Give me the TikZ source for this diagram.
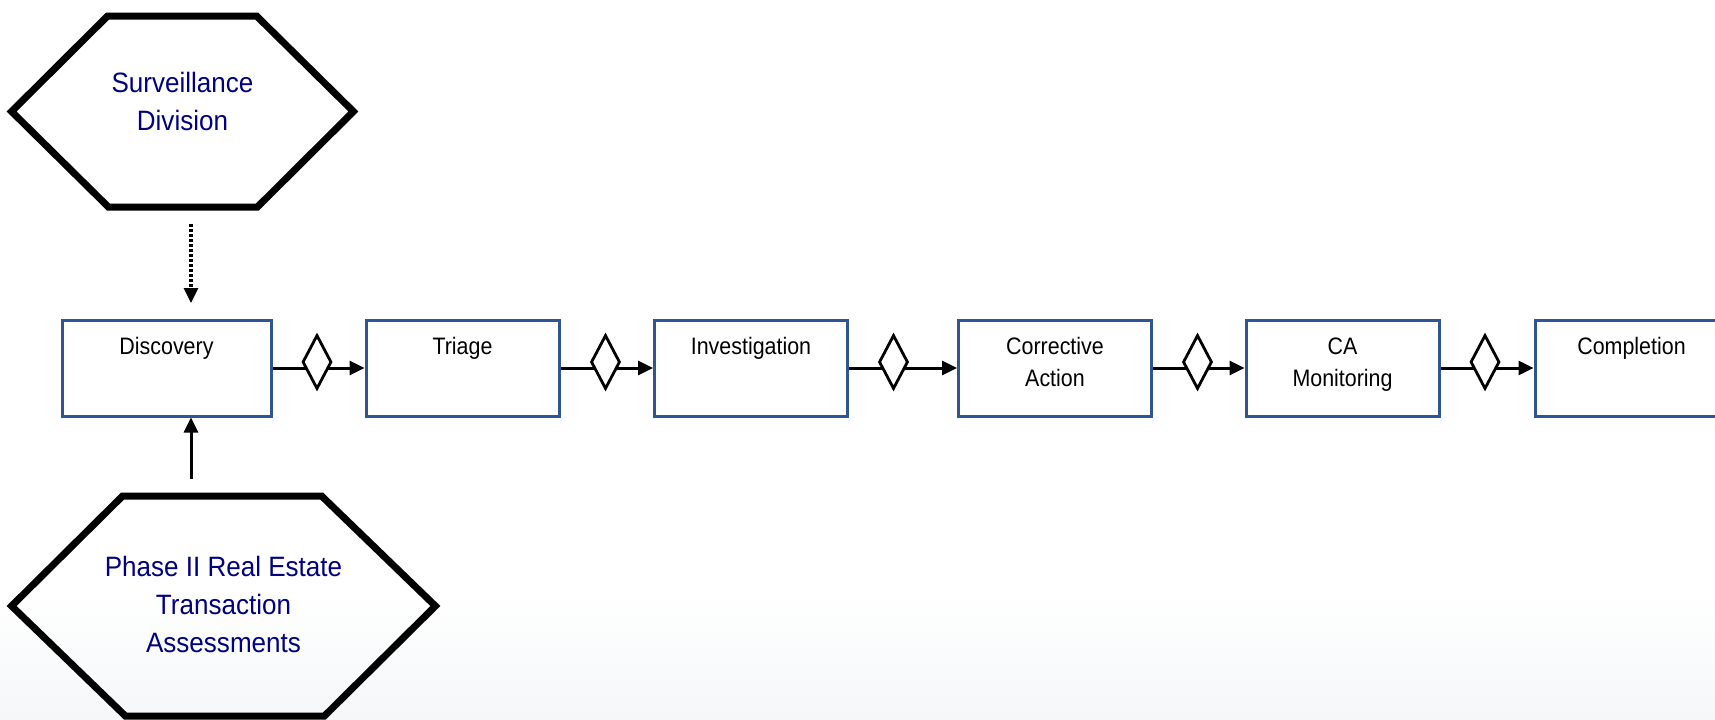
\documentclass[tikz,border=0pt]{standalone}
\usepackage{fontspec}
\setmainfont{Liberation Sans}[FakeStretch=0.9]
\newfontfamily\hexfont{Liberation Sans}[FakeStretch=0.93]
\usepackage{tikz}
\usetikzlibrary{arrows.meta,shapes.geometric}
\definecolor{boxblue}{RGB}{47,85,151}
\definecolor{navytext}{RGB}{0,0,128}
\definecolor{fadegrey}{RGB}{245,247,249}
\tikzstyle{stage} = [draw=boxblue, line width=1.5pt, minimum width=96.5pt, minimum height=48pt, inner sep=0pt, align=center, text height=17pt, text depth=31pt, font=\fontsize{11.9}{16}\selectfont]
\tikzstyle{stagetwo} = [stage, text height=33pt, text depth=15pt]
\tikzstyle{gate} = [draw, diamond, fill=white, line width=1.4pt, minimum width=14.5pt, minimum height=27pt, inner sep=0pt]
\tikzstyle{source} = [inner sep=0pt, align=center, text=navytext, font=\hexfont\fontsize{14}{19}\selectfont]
\tikzstyle{hexline} = [line width=3.5pt]
\tikzstyle{arrow} = [line width=1.5pt, -{Triangle[length=7.5pt,width=7pt]}]
\tikzstyle{dotarrow} = [arrow, line width=1.6pt, dash pattern=on 1.3pt off 1.2pt]

\begin{document}
\begin{tikzpicture}[x=0.5pt, y=-0.5pt]
	\useasboundingbox (0, 0) rectangle (1715, 719);
	\shade[top color=white, bottom color=fadegrey] (0, 590) rectangle (1715, 719);

	\node[source, minimum width=170.5pt, minimum height=95.5pt, text height=30pt, text depth=11.5pt](surv) at (182.5, 111.5){Surveillance\\Division};
	\draw[hexline](surv.west) -- ++(96, -95.5) -- ++(149, 0) -- (surv.east) -- ++(-96, 95.5) -- ++(-149, 0) -- cycle;
	\node[source, minimum width=211.5pt, minimum height=110pt, text height=60pt, text depth=14pt](phase) at (223.5, 606){Phase II Real Estate\\Transaction\\Assessments};
	\draw[hexline](phase.west) -- ++(111, -110) -- ++(199, 0) -- (phase.east) -- ++(-111, 110) -- ++(-199, 0) -- cycle;

	\node[stage, minimum width=104.5pt](disc) at (166.5, 368){Discovery};
	\node[stage](triage) at (462.5, 368){Triage};
	\node[stage](invest) at (751, 368){Investigation};
	\node[stagetwo](correct) at (1055, 368){Corrective\\Action};
	\node[stagetwo](camon) at (1342.5, 368){CA\\Monitoring};
	\node[stage](complete) at (1631.5, 368){Completion};

	\coordinate (survtap) at (191, 224);
	\coordinate (disctap) at (191, 303);
	\coordinate (phasetap) at (191, 479);
	\draw[dotarrow](survtap) -- (disctap);
	\draw[arrow](phasetap) -- (phasetap |- disc.south);

	\draw[arrow](disc) -- (triage);
	\draw[arrow](triage) -- (invest);
	\draw[arrow](invest) -- (correct);
	\draw[arrow](correct) -- (camon);
	\draw[arrow](camon) -- (complete);
	\node[gate](g1) at (317, 362){};
	\node[gate](g2) at (605.5, 362){};
	\node[gate](g3) at (893.5, 362){};
	\node[gate](g4) at (1197.5, 362){};
	\node[gate](g5) at (1485, 362){};
\end{tikzpicture}
\end{document}
